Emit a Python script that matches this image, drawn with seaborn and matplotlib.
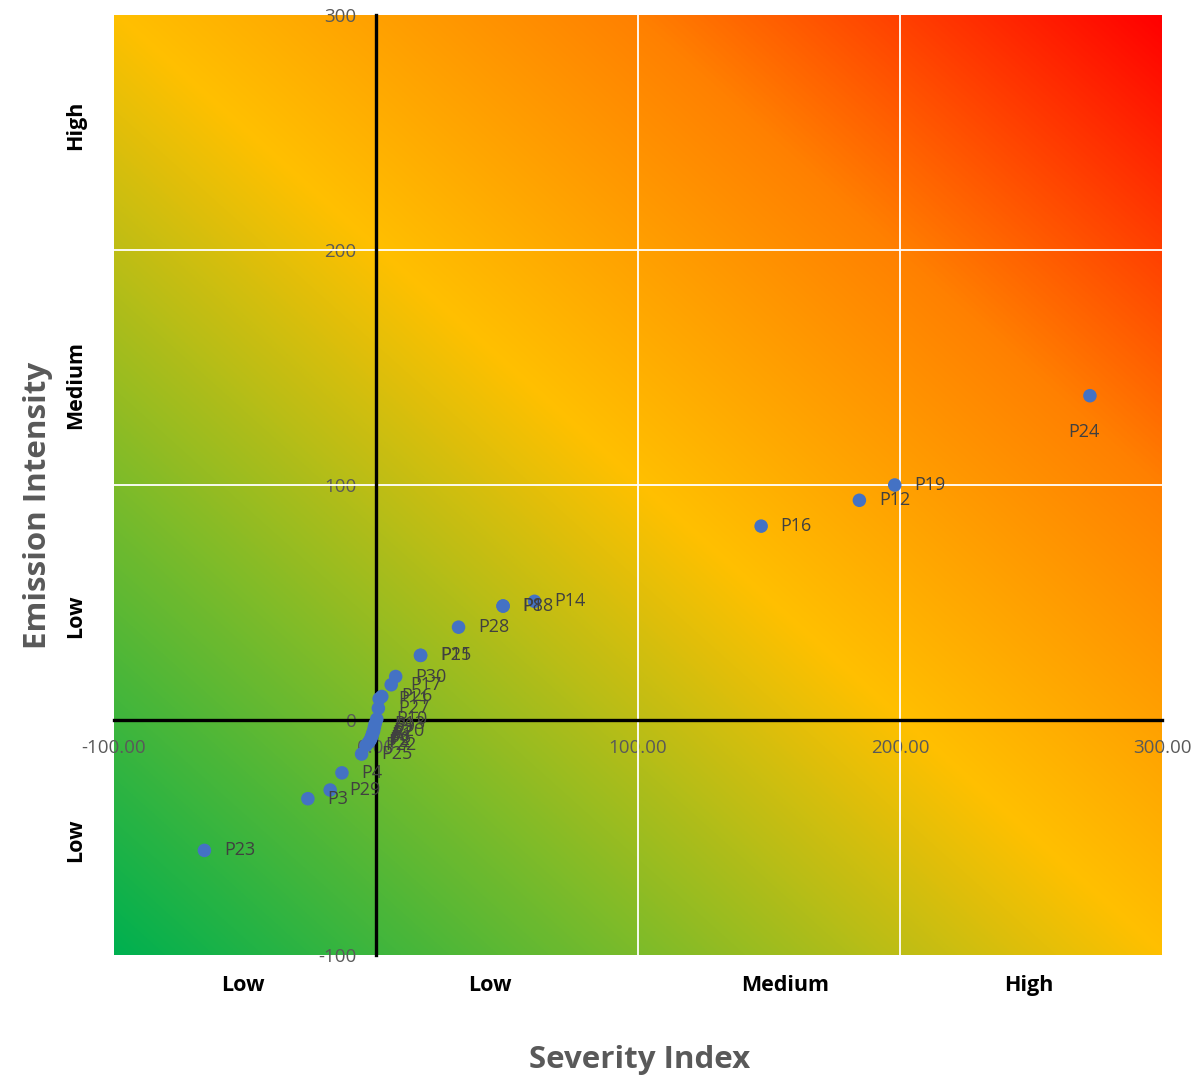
import numpy as np
import pandas as pd
import matplotlib
matplotlib.use("Agg")
import matplotlib.pyplot as plt
import matplotlib.transforms as mtransforms
from matplotlib.colors import LinearSegmentedColormap
import seaborn as sns

# Project points: severity index vs emission intensity
labels = ["P24", "P19", "P12", "P16", "P14", "P18", "P8", "P28", "P15", "P21",
          "P30", "P17", "P26", "P11", "P27", "P10", "P13", "P9", "P20", "P7",
          "P1", "P6", "P2", "P5", "P22", "P25", "P4", "P29", "P3", "P23"]
severity = [272.5, 198.0, 184.5, 147.0, 60.5, 48.5, 48.5, 31.5, 17.0, 17.0,
            7.5, 5.8, 2.2, 1.2, 0.9, 0.3, -0.3, -0.6, -0.9, -1.2,
            -1.5, -1.8, -2.2, -2.8, -3.8, -5.5, -13.0, -17.5, -26.0, -65.5]
emission = [138.0, 100.0, 93.5, 82.5, 50.5, 48.5, 48.5, 39.5, 27.5, 27.5,
            18.5, 15.0, 10.0, 9.0, 5.0, 0.4, -1.5, -3.0, -4.5, -5.5,
            -6.5, -7.5, -8.5, -9.5, -10.8, -14.5, -22.5, -29.8, -33.5, -55.5]

x_ticks = [-100, 0, 100, 200, 300]
x_tick_labels = ["-100.00", "0.00", "100.00", "200.00", "300.00"]
y_ticks = [-100, 0, 100, 200, 300]
y_tick_labels = ["-100", "0", "100", "200", "300"]

x_band_labels = ["Low", "Low", "Medium", "High"]
x_band_pos = [-51, 43.5, 156, 249]
y_band_labels = ["Low", "Low", "Medium", "High"]
y_band_pos = [-51, 44, 142.5, 253]

df = pd.DataFrame({"label": labels, "severity": severity, "emission": emission})

sns.set_style("white")
plt.rcParams["font.family"] = ["Open Sans", "DejaVu Sans"]

fig = plt.figure(figsize=(12.04, 10.82), dpi=100)
ax = fig.add_axes([0.0947, 0.1174, 0.8704, 0.8687])
ax.set_xlim(-100, 300)
ax.set_ylim(-100, 300)

# diagonal risk gradient: green (low) -> amber -> red (high)
cmap = LinearSegmentedColormap.from_list(
    "risk", ["#00b050", "#7cbb2a", "#ffc000", "#ff8000", "#ff0000"])
u = np.linspace(0, 1, 600)
v = np.linspace(0, 1, 600)
U, V = np.meshgrid(u, v)
T = (U + V) / 2
ax.imshow(T, cmap=cmap, extent=[-100, 300, -100, 300], origin="lower",
          aspect="auto", zorder=0, interpolation="bilinear")

# white grid
for g in [100, 200]:
    ax.axvline(g, color="white", lw=1.3, zorder=1)
    ax.axhline(g, color="white", lw=1.3, zorder=1)

# axes crossing at the origin
for side in ["top", "right"]:
    ax.spines[side].set_visible(False)
ax.spines["left"].set_position(("data", 0))
ax.spines["bottom"].set_position(("data", 0))
for side in ["left", "bottom"]:
    ax.spines[side].set_linewidth(2.4)
    ax.spines[side].set_color("black")
    ax.spines[side].set_zorder(2)

ax.set_xticks(x_ticks)
ax.set_xticklabels(x_tick_labels)
ax.set_yticks(y_ticks)
ax.set_yticklabels(y_tick_labels)
ax.tick_params(axis="both", length=0, labelsize=13.5, labelcolor="#595959")
ax.tick_params(axis="x", pad=14)
ax.tick_params(axis="y", pad=14)

sns.scatterplot(data=df, x="severity", y="emission", ax=ax, s=95,
                color="#4472c4", edgecolor="none", zorder=3, legend=False)

for lab, xv, yv in zip(labels, severity, emission):
    if lab == "P24":
        ax.annotate(lab, (xv, yv), xytext=(-4, -26), textcoords="offset points",
                    ha="center", va="center", fontsize=13, color="#404040", zorder=4)
    else:
        ax.annotate(lab, (xv, yv), xytext=(14, 0), textcoords="offset points",
                    ha="left", va="center", fontsize=13, color="#404040", zorder=4)

ax.set_xlabel("")
ax.set_ylabel("")

# band labels along both axes
tx = mtransforms.blended_transform_factory(ax.transData, ax.transAxes)
for lab, xp in zip(x_band_labels, x_band_pos):
    ax.text(xp, -0.032, lab, transform=tx, ha="center", va="center",
            fontsize=15.5, fontweight="bold", color="black")
ty = mtransforms.blended_transform_factory(ax.transAxes, ax.transData)
for lab, yp in zip(y_band_labels, y_band_pos):
    ax.text(-0.037, yp, lab, transform=ty, ha="center", va="center",
            rotation=90, fontsize=15.5, fontweight="bold", color="black")

fig.text(0.5316, 0.0203, "Severity Index", ha="center", va="center",
         fontsize=22.5, fontweight="bold", color="#595959")
fig.text(0.0316, 0.533, "Emission Intensity", ha="center", va="center",
         rotation=90, fontsize=22.5, fontweight="bold", color="#595959")

fig.savefig("out.png", dpi=100)
